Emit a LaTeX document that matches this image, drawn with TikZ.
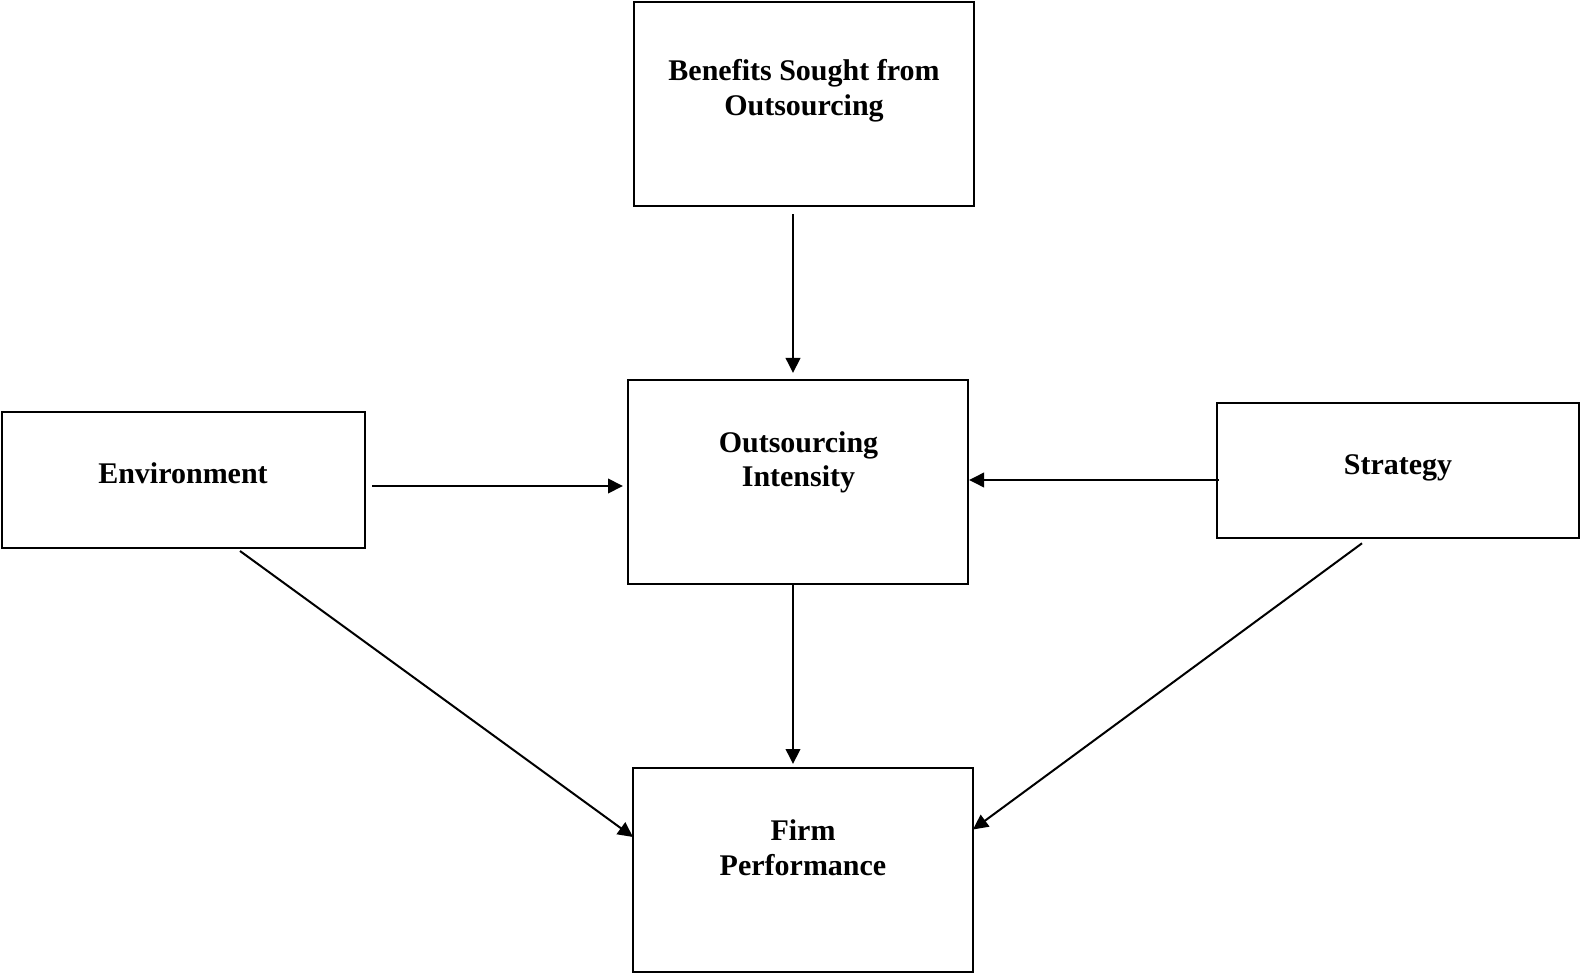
\documentclass[tikz,border=0pt]{standalone}
\usepackage{fontspec}
\setmainfont{Liberation Serif}
\usetikzlibrary{arrows.meta,calc}
\tikzset{
  box/.style={draw=black, line width=2pt, minimum width=#1, inner sep=0pt, outer sep=0pt},
  lbl/.style={font=\fontsize{30}{34.5}\selectfont\bfseries, align=center, inner sep=0pt, anchor=base},
  arr/.style={line width=2pt, -{Triangle[length=15pt,width=14.5pt]}},
}
\begin{document}
\begin{tikzpicture}[x=1pt,y=-1pt]
\useasboundingbox (0,0) rectangle (1580,973);
% boxes
\node[box=340pt, minimum height=204pt] (ben) at (804,104.5) {};
\node[box=340pt, minimum height=204pt] (out) at (798,482) {};
\node[box=363pt, minimum height=136pt] (env) at (183.5,480) {};
\node[box=362pt, minimum height=135pt] (str) at (1398,470.5) {};
\node[box=340pt, minimum height=204pt] (firm) at (803,869.5) {};
% labels (base anchor = last line baseline)
\node[lbl] (bent) at (804,115.5) {Benefits Sought from\\Outsourcing};
\node[lbl] (outt) at (798.5,486.7) {Outsourcing\\Intensity};
\node[lbl] (envt) at (183,483.3) {Environment};
\node[lbl] (strt) at (1398,475) {Strategy};
\node[lbl] (firmt) at (803,875) {Firm\\Performance};
% connectors
\draw[arr] ($(ben.south)+(-11,8)$) -- ($(out.north)+(-5,-7)$);
\draw[arr] ($(out.south)+(-5,0)$) -- ($(firm.north)+(-10,-3.5)$);
\draw[arr] ($(env.east)+(7,6)$) -- ($(out.west)+(-5,4)$);
\draw[arr] ($(str.west)+(2,9.5)$) -- ($(out.east)+(1,-2)$);
\draw[arr] ($(env.south)+(56.5,3)$) -- ($(firm.west)+(0,-32.5)$);
\draw[arr] ($(str.south)+(-36,5.3)$) -- ($(firm.east)+(0,-40)$);
\end{tikzpicture}
\end{document}
